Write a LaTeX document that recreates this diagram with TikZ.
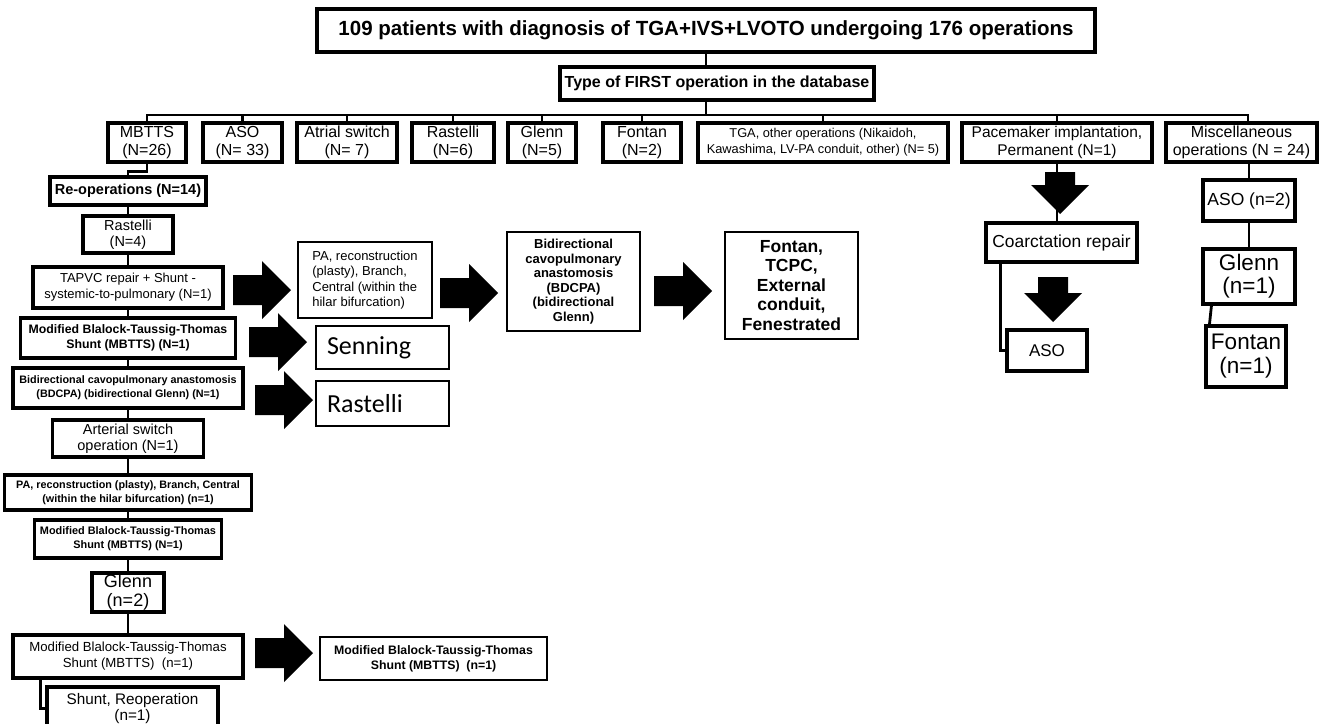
\documentclass[tikz,border=0pt]{standalone}
\usepackage{fontspec}
\setmainfont{Liberation Sans}
\newfontfamily\calib{Carlito}
\usepackage{tikz}

\begin{document}
\begin{tikzpicture}
	[x=1pt, y=-1pt,
	box/.style ={rectangle, draw=black, line width=3.1pt, align=center, inner sep=0pt, font=\fontsize{16}{18.5}\selectfont},
	plainbox/.style ={rectangle, draw=black, line width=2pt, align=center, inner sep=0pt},
	bigbox/.style ={plainbox, font=\calib\fontsize{26}{30}\selectfont, text width=111pt, align=left},
	line/.style ={draw, line width=2.8pt, line cap=rect},
	pics/fat/.style ={code={\fill (0,-15) -- (#1-29,-15) -- (#1-29,-29) -- (#1,0) -- (#1-29,29) -- (#1-29,15) -- (0,15) -- cycle;}}]
	\useasboundingbox (0,0) rectangle (1321,723);
	\coordinate (bar) at (0,115);
	\draw (706,30.5) node[box, minimum width=778pt, minimum height=43pt, font=\bfseries\fontsize{20.5}{22}\selectfont] (title) {109 patients with diagnosis of TGA+IVS+LVOTO undergoing 176 operations};
	\draw (717,83.5) node[box, minimum width=314pt, minimum height=33pt, font=\bfseries\fontsize{16}{18}\selectfont] (type) {Type of FIRST operation in the database};
	\draw (147,142.5) node[box, minimum width=78pt, minimum height=39pt] (mbtts) {MBTTS\\(N=26)};
	\draw (242.5,142.5) node[box, minimum width=79pt, minimum height=39pt] (aso) {ASO\\(N= 33)};
	\draw (347,142.5) node[box, minimum width=100pt, minimum height=39pt] (atrial) {Atrial switch\\(N= 7)};
	\draw (453,142.5) node[box, minimum width=82pt, minimum height=39pt] (rast) {Rastelli\\(N=6)};
	\draw (542,142.5) node[box, minimum width=68pt, minimum height=39pt] (glenn) {Glenn\\(N=5)};
	\draw (642,142.5) node[box, minimum width=78pt, minimum height=39pt] (fontan) {Fontan\\(N=2)};
	\draw (823,142.5) node[box, minimum width=250pt, minimum height=39pt, font=\fontsize{12.8}{16}\selectfont] (tga) {TGA, other operations (Nikaidoh,\\Kawashima, LV-PA conduit, other) (N= 5)};
	\draw (1057,142.5) node[box, minimum width=190pt, minimum height=39pt, font=\fontsize{15.5}{18.5}\selectfont] (pace) {Pacemaker implantation,\\Permanent (N=1)};
	\draw (1241.5,142.5) node[box, minimum width=151pt, minimum height=39pt] (misc) {Miscellaneous\\operations (N = 24)};
	\draw (128,191) node[box, minimum width=156pt, minimum height=28pt, font=\bfseries\fontsize{14.5}{16}\selectfont] (reop) {Re-operations (N=14)};
	\draw (128,234.5) node[box, minimum width=90pt, minimum height=37pt, font=\fontsize{14.5}{16}\selectfont] (rast4) {Rastelli\\(N=4)};
	\draw (128,287.5) node[box, minimum width=190pt, minimum height=41pt, font=\fontsize{13}{16}\selectfont] (tapvc) {TAPVC repair + Shunt -\\systemic-to-pulmonary (N=1)};
	\draw (128,338) node[box, minimum width=215pt, minimum height=40pt, font=\bfseries\fontsize{12.3}{15}\selectfont] (mbtts1) {Modified Blalock-Taussig-Thomas\\Shunt (MBTTS) (N=1)};
	\draw (128,388) node[box, minimum width=230pt, minimum height=40pt, font=\bfseries\fontsize{10.8}{14}\selectfont] (bdcpa1) {Bidirectional cavopulmonary anastomosis\\(BDCPA) (bidirectional Glenn) (N=1)};
	\draw (128,438.5) node[box, minimum width=151pt, minimum height=37pt, font=\fontsize{14.5}{16}\selectfont] (asw) {Arterial switch\\operation (N=1)};
	\draw (128,492.5) node[box, minimum width=247pt, minimum height=35pt, font=\bfseries\fontsize{10.8}{14}\selectfont] (parec1) {PA, reconstruction (plasty), Branch, Central\\(within the hilar bifurcation) (n=1)};
	\draw (128,539) node[box, minimum width=187pt, minimum height=38pt, font=\bfseries\fontsize{10.9}{14}\selectfont] (mbtts2) {Modified Blalock-Taussig-Thomas\\Shunt (MBTTS) (N=1)};
	\draw (128,592.5) node[box, minimum width=72pt, minimum height=39pt, font=\fontsize{18}{19}\selectfont] (glenn2) {Glenn\\(n=2)};
	\draw (128,656.5) node[box, minimum width=230pt, minimum height=43pt, font=\fontsize{13.2}{16}\selectfont] (mbtts3) {Modified Blalock-Taussig-Thomas\\Shunt (MBTTS)\ \ (n=1)};
	\draw (132.5,708.5) node[box, minimum width=171pt, minimum height=43pt, font=\fontsize{15.3}{16.5}\selectfont] (shunt) {Shunt, Reoperation\\(n=1)};
	\draw (365,280) node[plainbox, minimum width=134pt, minimum height=76pt, font=\fontsize{13}{15.5}\selectfont, align=left] (parec2) {PA, reconstruction\\(plasty), Branch,\\Central (within the\\hilar bifurcation)};
	\draw (573.5,281.5) node[plainbox, minimum width=133pt, minimum height=99pt, font=\bfseries\fontsize{13}{14.5}\selectfont] (bdcpa2) {Bidirectional\\cavopulmonary\\anastomosis\\(BDCPA)\\(bidirectional\\Glenn)};
	\draw (791.5,285.5) node[plainbox, minimum width=133pt, minimum height=107pt, font=\bfseries\fontsize{17.5}{19.5}\selectfont] (fontan2) {Fontan,\\TCPC,\\External\\conduit,\\Fenestrated};
	\draw (382.5,347.5) node[bigbox, minimum width=133pt, minimum height=43pt] (senning) {Senning};
	\draw (382.5,403.5) node[bigbox, minimum width=133pt, minimum height=45pt] (rast2) {Rastelli};
	\draw (433.5,658.5) node[plainbox, minimum width=227pt, minimum height=43pt, font=\bfseries\fontsize{12.3}{15}\selectfont] (mbtts4) {Modified Blalock-Taussig-Thomas\\Shunt (MBTTS)\ \ (n=1)};
	\draw (1061.5,242.5) node[box, minimum width=151pt, minimum height=39pt, font=\fontsize{17.4}{19}\selectfont] (coarc) {Coarctation repair};
	\draw (1047,350.5) node[box, minimum width=80pt, minimum height=41pt, font=\fontsize{17}{19}\selectfont] (aso3) {ASO};
	\draw (1249,200.5) node[box, minimum width=92pt, minimum height=41pt, font=\fontsize{17.5}{19}\selectfont] (aso2) {ASO (n=2)};
	\draw (1249,276.5) node[box, minimum width=92pt, minimum height=55pt, font=\fontsize{22.5}{23}\selectfont] (glenn1) {Glenn\\(n=1)};
	\draw (1246,356.5) node[box, minimum width=80pt, minimum height=61pt, font=\fontsize{22.5}{24}\selectfont] (fontan1) {Fontan\\(n=1)};
	\draw[line] (title.south) -- (title.south |- type.north);
	\draw[line] (title.south |- type.south) -- (title.south |- bar);
	\draw[line] (mbtts.north |- bar) -- ([xshift=6.5pt]misc.north |- bar);
	\draw[line] (mbtts.north) -- (mbtts.north |- bar);
	\draw[line] (aso.north) -- (aso.north |- bar);
	\draw[line] (atrial.north) -- (atrial.north |- bar);
	\draw[line] (rast.north) -- (rast.north |- bar);
	\draw[line] (glenn.north) -- (glenn.north |- bar);
	\draw[line] (fontan.north) -- (fontan.north |- bar);
	\draw[line] (tga.north) -- (tga.north |- bar);
	\draw[line] (pace.north) -- (pace.north |- bar);
	\draw[line] ([xshift=6.5pt]misc.north) -- ([xshift=6.5pt]misc.north |- bar);
	\draw[line] (mbtts.south) -- ++(0,8) -| (reop.north);
	\draw[line] (reop) -- (rast4);
	\draw[line] (rast4) -- (tapvc);
	\draw[line] (tapvc) -- (mbtts1);
	\draw[line] (mbtts1) -- (bdcpa1);
	\draw[line] (bdcpa1) -- (asw);
	\draw[line] (asw) -- (parec1);
	\draw[line] (parec1) -- (mbtts2);
	\draw[line] (mbtts2) -- (glenn2);
	\draw[line] (glenn2) -- (mbtts3);
	\draw[line] ([xshift=29pt]mbtts3.south west) |- (shunt.west);
	\draw[line] (pace.south) -- (pace.south |- coarc.north);
	\draw[line] ([xshift=16pt]coarc.south west) |- (aso3.west);
	\draw[line] (aso2.north) -- (aso2.north |- misc.south);
	\draw[line] (aso2) -- (glenn1);
	\draw[line] ([xshift=10pt]glenn1.south west) -- ([xshift=5pt]fontan1.north west);
	\pic at (233,290) {fat=58};
	\pic at (249,342) {fat=58};
	\pic at (255,400) {fat=58};
	\pic at (440,293) {fat=58};
	\pic at (654,291) {fat=58};
	\pic at (255,653) {fat=58};
	\pic[rotate=-90] at (1060,172) {fat=42};
	\pic[rotate=-90] at (1053,277) {fat=45};
\end{tikzpicture}
\end{document}
